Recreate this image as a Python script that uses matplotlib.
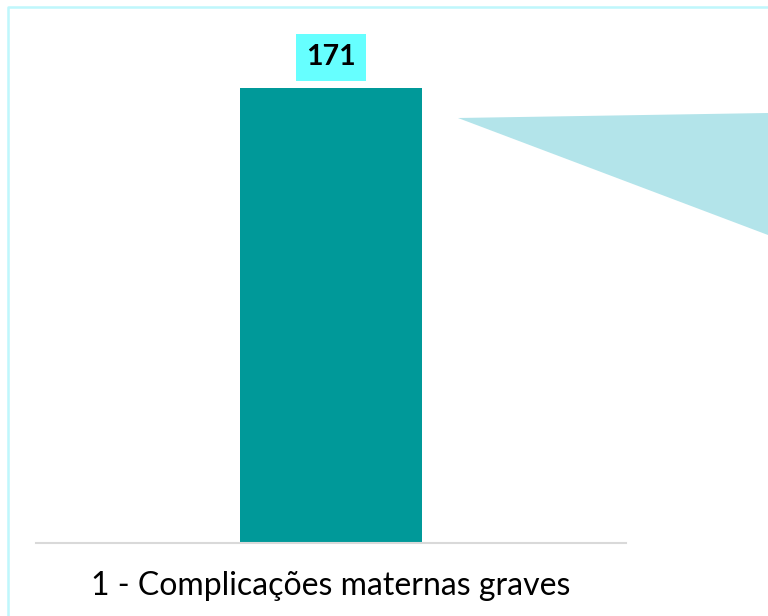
import matplotlib.pyplot as plt
from matplotlib.patches import Polygon
from matplotlib.lines import Line2D

categories = ['1 - Complicações maternas graves']
values = [171]

bar_color = '#009999'
label_bg = '#66ffff'
callout_color = '#b3e4ea'
frame_color = '#bff7fc'

fig = plt.figure(figsize=(7.68, 6.16), dpi=100)
ax = fig.add_axes([0.047, 0.1185, 0.768, 0.7776])

bars = ax.bar(categories, values, width=0.31, color=bar_color, zorder=2)
ax.set_xlim(-0.5, 0.5)
ax.set_ylim(0, 180)

# value label on top of the bar
for rect, v in zip(bars, values):
    ax.annotate(str(v), (rect.get_x() + rect.get_width() / 2, v),
                xytext=(0, 22), textcoords='offset points',
                ha='center', va='center', fontsize=20.5, fontweight='bold',
                family='Lato', color='black',
                bbox=dict(boxstyle='square,pad=0.36', fc=label_bg, ec='none'))

for side in ['top', 'right', 'left']:
    ax.spines[side].set_visible(False)
ax.spines['bottom'].set_color('#d9d9d9')
ax.spines['bottom'].set_linewidth(1.5)
ax.set_yticks([])
ax.tick_params(axis='x', length=0, pad=20)
for lbl in ax.get_xticklabels():
    lbl.set_fontsize(23)
    lbl.set_family('Lato')

# callout wedge pointing towards the bar
fig.patches.append(Polygon([(458 / 768, 1 - 118 / 616), (1.0, 1 - 113 / 616),
                            (1.0, 1 - 235 / 616)],
                           closed=True, transform=fig.transFigure,
                           fc=callout_color, ec='none'))

# thin frame around the chart area
fig.lines.append(Line2D([8 / 768, 8 / 768, 1.0], [0.0, 1 - 7 / 616, 1 - 7 / 616],
                        transform=fig.transFigure, color=frame_color, lw=1.8))

fig.savefig('out.png', dpi=100)
